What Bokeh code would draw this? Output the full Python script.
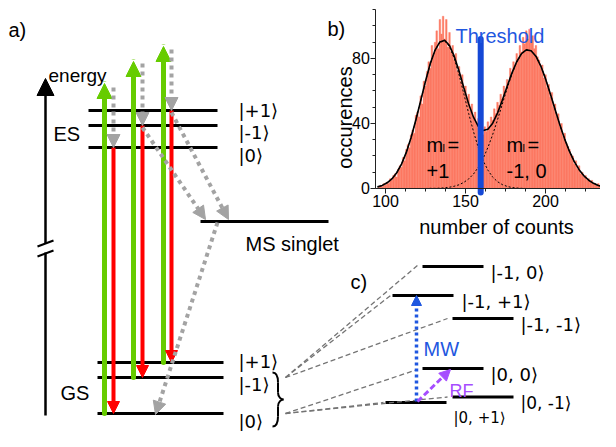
import math
from bokeh.plotting import figure
from bokeh.models import (Range1d, LinearAxis, SingleIntervalTicker, Arrow, NormalHead,
                          ColumnDataSource)
from bokeh.core.properties import value
from bokeh.embed import file_html
from bokeh.resources import INLINE

# ---------------- panel b): histogram data ----------------
hist_first_bin = 95
hist_occ = [0, 1, 2, 1, 3, 2, 4, 3, 6, 5,
            8, 9, 7, 12, 14, 13, 19, 17, 24, 27,
            25, 33, 36, 34, 45, 47, 44, 57, 52, 66,
            63, 72, 78, 74, 88, 82, 90, 97, 86, 104,
            95, 106, 92, 104, 87, 96, 84, 88, 79, 83,
            72, 75, 66, 70, 60, 63, 55, 58, 48, 52,
            44, 47, 40, 43, 38, 36, 33, 38, 35, 41,
            37, 44, 42, 49, 46, 53, 51, 58, 55, 63,
            60, 67, 64, 74, 70, 78, 75, 83, 79, 88,
            84, 93, 89, 97, 92, 98, 90, 94, 86, 88,
            81, 79, 74, 76, 68, 70, 62, 64, 56, 59,
            50, 52, 44, 46, 38, 40, 32, 34, 28, 26,
            24, 21, 20, 15, 17, 12, 14, 9, 10, 7,
            8, 5, 6, 4, 5, 3, 3, 2, 3, 2,
            1, 2, 1, 1, 2, 0, 1, 1, 0]
hist_counts = [hist_first_bin + i for i in range(len(hist_occ))]

fit_counts = [95, 98, 101, 104, 107, 110, 113, 116, 119, 122, 125, 128, 131, 134, 137,
              140, 143, 146, 149, 152, 155, 158, 161, 164, 167, 170, 173, 176, 179, 182,
              185, 188, 191, 194, 197, 200, 203, 206, 209, 212, 215, 218, 221, 224, 227,
              230, 233, 236, 239, 242]
fit_total = [1.0, 1.9, 3.5, 5.9, 9.7, 15.0, 22.2, 31.4, 42.3, 54.1, 66.0, 76.9, 85.2, 90.2, 91.2,
             88.0, 81.3, 72.1, 61.9, 52.0, 43.9, 38.2, 35.7, 36.5, 40.2, 46.4, 54.3, 62.8, 71.0, 78.0,
             83.0, 85.3, 84.8, 81.4, 75.5, 67.6, 58.3, 48.6, 39.1, 30.4, 22.8, 16.5, 11.6, 7.8, 5.1,
             3.2, 1.9, 1.1, 0.6, 0.3]
fit_plus1 = [1.0, 1.9, 3.5, 5.9, 9.7, 15.0, 22.2, 31.4, 42.3, 54.1, 66.0, 76.8, 85.1, 90.0, 90.8,
             87.2, 79.9, 69.8, 58.1, 46.1, 35.0, 25.1, 17.2, 11.3, 7.0, 4.2, 2.4, 1.3, 0.6, 0.3,
             0.1, 0, 0, 0, 0, 0, 0, 0, 0, 0, 0, 0, 0, 0, 0,
             0, 0, 0, 0, 0]
fit_rest = [0, 0, 0, 0, 0, 0, 0, 0, 0, 0, 0, 0.1, 0.1, 0.2, 0.4,
            0.8, 1.4, 2.3, 3.8, 5.9, 8.9, 13.1, 18.5, 25.2, 33.2, 42.2, 51.9, 61.5, 70.4, 77.7,
            82.9, 85.3, 84.8, 81.4, 75.5, 67.6, 58.3, 48.6, 39.1, 30.4, 22.8, 16.5, 11.6, 7.8, 5.1,
            3.2, 1.9, 1.1, 0.6, 0.3]
threshold_count = 159.5
threshold_span = [-2.5, 92]

# ---------------- panel a): level diagram (pixel layout) ----------------
es_levels = [110, 125, 147]          # |+1>, |-1>, |0>
gs_levels = [362, 377, 413]          # |+1>, |-1>, |0>
ms_level = 221
green_x = [104, 133, 163]
green_from = [413, 377, 362]
green_to = [83, 61, 46]
red_x = [113, 142, 171]
red_from = [147, 125, 110]
red_to = [413, 377, 362]
gray_v_top = [87, 63, 49]

# ---------------- panel c) ----------------
c_levels_y = [266, 295, 318, 368, 396.5, 402]
c_levels_x0 = [422, 392, 452, 422, 452, 385]
c_levels_w = 61
c_labels = ["|-1, 0⟩", "|-1, +1⟩", "|-1, -1⟩", "|0, 0⟩", "|0, -1⟩", "|0, +1⟩"]
c_label_x = [490, 461, 520, 490, 520, 453]
c_label_y = [272, 301, 324, 374, 402, 417]
c_label_size = ["18px", "18px", "18px", "18px", "17px", "15px"]
c_line_end_x = [417, 390, 447, 417, 447, 383]
c_line_end_y = [265, 295, 318, 369, 396.5, 402]
c_line_from_y = [377, 377, 377, 413, 413, 413]

GREEN = "#66cc00"
RED = "#ff0000"
GRAY = "#a3a3a3"
DGRAY = "#747474"
BLUE = "#1f57e0"
TBLUE = "#1548d6"
PURPLE = "#a64dff"
SALMON = "#fd7963"
FONT = "Liberation Sans"
KFONT = "DejaVu Sans"

p = figure(width=600, height=431, x_range=Range1d(0, 600), y_range=Range1d(431, 0),
           x_axis_type=None, y_axis_type=None, toolbar_location=None,
           output_backend="svg", min_border=0)
p.outline_line_color = None
p.background_fill_color = "white"
p.border_fill_color = "white"
p.extra_x_ranges = {"counts": Range1d(-140.625, 234.375)}
p.extra_y_ranges = {"occ": Range1d(-149.5385, 115.6923)}

# ---- histogram ----
p.quad(left=[c - 0.5 for c in hist_counts], right=[c + 0.5 for c in hist_counts],
       bottom=0, top=hist_occ, x_range_name="counts", y_range_name="occ",
       fill_color=SALMON, line_color=SALMON, line_width=0.4)
p.line(fit_counts, fit_plus1, x_range_name="counts", y_range_name="occ",
       line_color="black", line_width=1, line_dash="2 2")
p.line(fit_counts, fit_rest, x_range_name="counts", y_range_name="occ",
       line_color="black", line_width=1, line_dash="2 2")
p.line(fit_counts, fit_total, x_range_name="counts", y_range_name="occ",
       line_color="black", line_width=1.6)
p.segment(x0=[threshold_count], y0=[threshold_span[0]], x1=[threshold_count], y1=[threshold_span[1]],
          x_range_name="counts", y_range_name="occ", line_color=TBLUE, line_width=6, line_cap="round")

def style_axis(ax):
    ax.axis_line_color = "#222222"
    ax.axis_line_width = 1
    ax.major_tick_out = 5
    ax.major_tick_in = 0
    ax.minor_tick_out = 3
    ax.minor_tick_in = 0
    ax.major_tick_line_color = "#222222"
    ax.minor_tick_line_color = "#222222"
    ax.major_label_text_font = FONT
    ax.major_label_text_font_size = "16px"
    ax.major_label_text_color = "black"

xax = LinearAxis(x_range_name="counts", y_range_name="occ", fixed_location=0,
                 bounds=(94, 245), ticker=SingleIntervalTicker(interval=50, num_minor_ticks=4))
style_axis(xax)
xax.major_label_standoff = 2
yax = LinearAxis(x_range_name="counts", y_range_name="occ", fixed_location=94,
                 bounds=(0, 110), ticker=SingleIntervalTicker(interval=40, num_minor_ticks=4))
style_axis(yax)
yax.major_label_standoff = 1
p.add_layout(xax, "below")
p.add_layout(yax, "left")

# ---- level lines ----
lx0 = [88] * 3 + [97] * 3 + [200] + c_levels_x0
lx1 = [217] * 3 + [223] * 3 + [328] + [x + c_levels_w for x in c_levels_x0]
ly = es_levels + gs_levels + [ms_level] + c_levels_y
p.segment(x0=lx0, y0=ly, x1=lx1, y1=ly, line_color="black", line_width=3)

# ---- energy axis ----
p.segment(x0=[45], y0=[415], x1=[45], y1=[252], line_color="black", line_width=2.5)
p.segment(x0=[37, 37], y0=[246, 256], x1=[53, 53], y1=[240, 250], line_color="black", line_width=2)
p.add_layout(Arrow(end=NormalHead(size=17, fill_color="black", line_color="black"),
                   x_start=45, y_start=243, x_end=45, y_end=78,
                   line_color="black", line_width=2.5))

# ---- optical transitions ----
gsrc = ColumnDataSource(dict(x0=green_x, y0=green_from, x1=green_x, y1=green_to))
p.add_layout(Arrow(end=NormalHead(size=15, fill_color=GREEN, line_color=GREEN), source=gsrc,
                   x_start="x0", y_start="y0", x_end="x1", y_end="y1",
                   line_color=GREEN, line_width=5, line_cap="round"))
rsrc = ColumnDataSource(dict(x0=red_x, y0=red_from, x1=red_x, y1=red_to))
p.add_layout(Arrow(end=NormalHead(size=12, fill_color=RED, line_color=RED), source=rsrc,
                   x_start="x0", y_start="y0", x_end="x1", y_end="y1",
                   line_color=RED, line_width=4))
gx0 = red_x + [142, 171, 217]
gy0 = gray_v_top + [127, 112, 222]
gx1 = red_x + [205, 228, 155]
gy1 = red_from + [219, 219, 414]
gysrc = ColumnDataSource(dict(x0=gx0, y0=gy0, x1=gx1, y1=gy1))
p.add_layout(Arrow(end=NormalHead(size=13, fill_color=GRAY, line_color=GRAY), source=gysrc,
                   x_start="x0", y_start="y0", x_end="x1", y_end="y1",
                   line_color=GRAY, line_width=4, line_dash="4 4"))

# ---- brace ----
p.bezier(x0=[272, 277.5, 277.5, 283, 277.5, 277.5],
         y0=[372, 382, 392, 399, 406, 416],
         x1=[277.5, 277.5, 283, 277.5, 277.5, 272],
         y1=[382, 392, 399, 406, 416, 426],
         cx0=[276, 277.5, 277.5, 281, 277.5, 277.5],
         cy0=[372, 382, 397, 399, 406, 422],
         cx1=[277.5, 277.5, 281, 277.5, 277.5, 276],
         cy1=[376, 392, 399, 401, 416, 426],
         line_color="black", line_width=2)

# ---- dashed connections to panel c) ----
p.segment(x0=[285] * 6, y0=c_line_from_y, x1=c_line_end_x, y1=c_line_end_y,
          line_color=DGRAY, line_width=1.3, line_dash="5 3")

# ---- MW / RF ----
p.add_layout(Arrow(end=NormalHead(size=10, fill_color=BLUE, line_color=BLUE),
                   x_start=416, y_start=401, x_end=416, y_end=295,
                   line_color=BLUE, line_width=3.5, line_dash="3 3"))
p.add_layout(Arrow(end=NormalHead(size=11, fill_color=PURPLE, line_color=PURPLE),
                   x_start=417, y_start=401, x_end=450, y_end=369,
                   line_color=PURPLE, line_width=3, line_dash="6 3"))

# ---- texts ----
tsrc = ColumnDataSource(dict(
    x=[8, 48, 53, 60, 245, 327, 350, 455, 423, 449, 426, 447, 426, 506, 527, 506],
    y=[29, 75, 133, 392, 243, 28, 281, 35, 348, 390, 144, 144, 170, 144, 144, 170],
    text=["a)", "energy", "ES", "GS", "MS singlet", "b)", "c)", "Threshold", "MW", "RF",
          "m", "=", "+1", "m", "=", "-1, 0"],
    color=["black"] * 7 + [BLUE, BLUE, PURPLE] + ["black"] * 6,
    size=["20px", "19px", "20px", "20px", "20px", "20px", "20px", "20px", "20px", "18px",
          "20px", "20px", "20px", "20px", "20px", "20px"],
))
p.text(x="x", y="y", text="text", source=tsrc, text_color="color", text_font_size="size",
       text_font=value(FONT), text_baseline="alphabetic", text_align="left")
p.text(x=[442, 522], y=[147, 147], text=["l", "l"], text_font=value(FONT),
       text_font_size=value("11px"), text_baseline="alphabetic", text_align="left")
p.text(x=[496], y=[226], text=["number of counts"], text_font=value(FONT),
       text_font_size=value("20px"), text_baseline="alphabetic", text_align="center")
p.text(x=[344], y=[117], text=["occurences"], angle=math.pi / 2, text_font=value(FONT),
       text_font_size=value("20px"), text_baseline="alphabetic", text_align="center")

# kets
ket_x = [238] * 6 + c_label_x
ket_y = [110, 132, 155, 361, 384, 421] + c_label_y
ket_t = ["|+1⟩", "|-1⟩", "|0⟩", "|+1⟩", "|-1⟩", "|0⟩"] + c_labels
ket_size = ["18px"] * 6 + c_label_size
ksrc = ColumnDataSource(dict(x=ket_x, y=ket_y, text=ket_t, size=ket_size))
p.text(x="x", y="y", text="text", source=ksrc, text_font=value(KFONT), text_font_size="size",
       text_baseline="alphabetic", text_align="left", text_color="black")

open("out.html", "w").write(file_html(p, INLINE))
